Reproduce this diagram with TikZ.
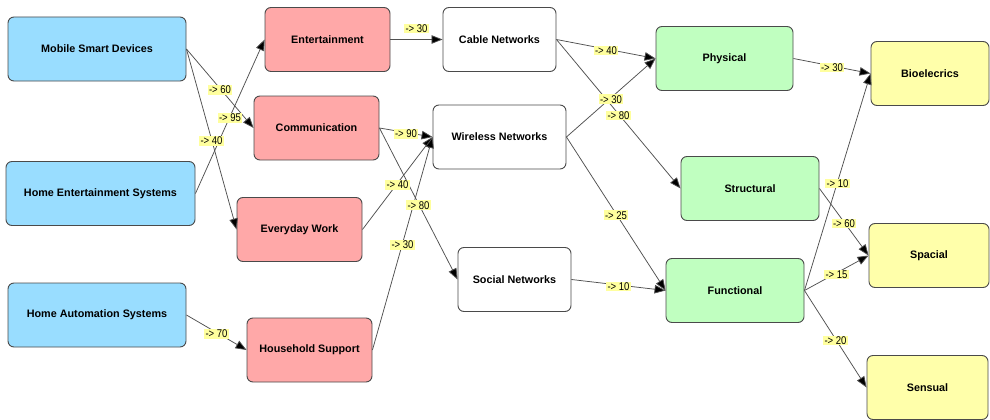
\documentclass[tikz,border=0pt]{standalone}
\usepackage{fontspec}
\setmainfont{Liberation Sans}
\newfontfamily\boxfont{Liberation Sans}
\newfontfamily\tagfont[FakeStretch=0.85]{Liberation Sans}
\usetikzlibrary{arrows.meta,calc}

\definecolor{devblue}{HTML}{99DDFF}
\definecolor{usepink}{HTML}{FFA8A8}
\definecolor{dimgreen}{HTML}{C0FFC0}
\definecolor{outyellow}{HTML}{FFFFAA}
\definecolor{tagyellow}{HTML}{FFFF9E}
\definecolor{rim}{HTML}{4A4A4A}
\definecolor{wire}{HTML}{505050}

\tikzset{
  box/.style={draw=rim, line width=0.9pt, rounded corners=6pt, inner sep=0pt,
    minimum height=64pt, font=\boxfont\bfseries\fontsize{10.8}{12}\selectfont, text=black},
  device/.style={box, fill=devblue},
  usage/.style={box, fill=usepink},
  network/.style={box, fill=white},
  dimension/.style={box, fill=dimgreen},
  outcome/.style={box, fill=outyellow},
  link/.style={draw=wire, line width=0.75pt, -{Triangle[length=11pt,width=8.5pt,fill=black]}},
  tag/.style={fill=tagyellow, inner xsep=1.5pt, inner ysep=1pt,
    font=\tagfont\fontsize{11.2}{12}\selectfont, text=black}
}

\begin{document}
\begin{tikzpicture}[x=1pt, y=-1pt]
\fill[white] (0,0) rectangle (990,420);
\useasboundingbox (0,0) rectangle (990,420);

% sources
\node[device, minimum width=178pt] (msd) at (97,49)    {Mobile Smart Devices};
\node[device, minimum width=189pt] (hes) at (100.5,193.5) {Home Entertainment Systems};
\node[device, minimum width=178pt] (has) at (97,315)   {Home Automation Systems};

% usages
\node[usage, minimum width=125pt] (ent) at (327.5,39.5) {Entertainment};
\node[usage, minimum width=125pt] (com) at (316.5,128)  {Communication};
\node[usage, minimum width=125pt] (eww) at (299.5,229.5) {Everyday Work};
\node[usage, minimum width=125pt] (hhs) at (309.5,350)  {Household Support};

% networks
\node[network, minimum width=113pt] (cab) at (499.5,39.5) {Cable Networks};
\node[network, minimum width=133pt] (wir) at (499.5,137)  {Wireless Networks};
\node[network, minimum width=113pt] (soc) at (514.5,279.5) {Social Networks};

% dimensions
\node[dimension, minimum width=137pt] (phy) at (724.5,58.5) {Physical};
\node[dimension, minimum width=138pt] (str) at (750,188.5)  {Structural};
\node[dimension, minimum width=138pt] (fun) at (735,290.5)  {Functional};

% outcomes
\node[outcome, minimum width=118pt] (bio) at (930,73.5)  {Bioelecrics};
\node[outcome, minimum width=120pt] (spa) at (929,255.5) {Spacial};
\node[outcome, minimum width=121pt] (sen) at (927.5,387.5) {Sensual};

% weighted links
\foreach \s/\t in {msd/com, msd/eww, hes/ent, has/hhs, ent/cab,
                   com/wir, com/soc, eww/wir, hhs/wir,
                   cab/phy, cab/str, wir/phy, wir/fun, soc/fun,
                   phy/bio, fun/bio, str/spa, fun/spa, fun/sen}
  \draw[link] (\s.east) -- (\t.west);

% link weights
\foreach \s/\t/\v in {msd/com/60, msd/eww/40, hes/ent/95, has/hhs/70,
                      com/wir/90, com/soc/80, eww/wir/40, hhs/wir/30,
                      cab/phy/40, cab/str/80, wir/phy/30, wir/fun/25, soc/fun/10,
                      phy/bio/30, fun/bio/10, str/spa/60, fun/spa/15, fun/sen/20}
  \node[tag, yshift=-1.5pt] (w-\s-\t) at ($(\s.east)!0.5!(\t.west)$) {-> \v};
\node[tag, yshift=11pt] (w-ent-cab) at ($(ent.east)!0.5!(cab.west)$) {-> 30};
\end{tikzpicture}
\end{document}
